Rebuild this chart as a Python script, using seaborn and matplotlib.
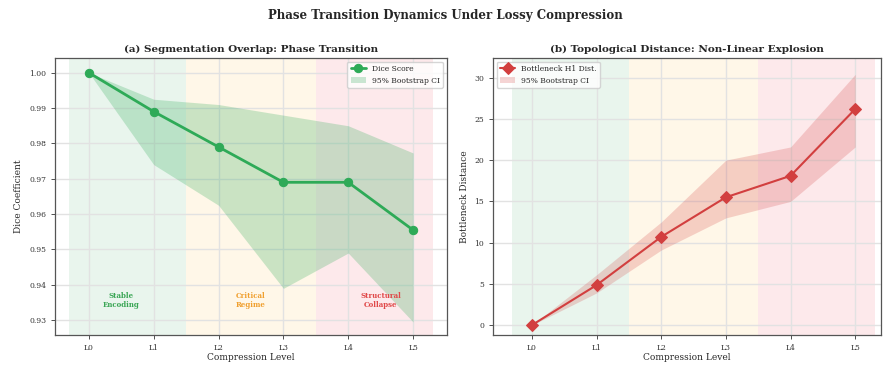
import numpy as np
import pandas as pd
import matplotlib
matplotlib.use("Agg")
import matplotlib.pyplot as plt
import seaborn as sns

# data
levels = ["L0", "L1", "L2", "L3", "L4", "L5"]
dice_mean = [1.000, 0.989, 0.979, 0.969, 0.969, 0.9555]
dice_lo = [1.000, 0.974, 0.9625, 0.939, 0.949, 0.9295]
dice_hi = [1.000, 0.9925, 0.991, 0.988, 0.985, 0.9773]

bn_mean = [0.0, 4.85, 10.7, 15.5, 18.1, 26.2]
bn_lo = [0.0, 3.9, 9.1, 13.0, 15.0, 21.6]
bn_hi = [0.0, 6.1, 12.5, 20.0, 21.6, 30.4]

regimes = ["Stable\nEncoding", "Critical\nRegime", "Structural\nCollapse"]
regime_spans = [(-0.3, 1.5), (1.5, 3.5), (3.5, 5.3)]
regime_fill = ["#e6f4ea", "#fff6e5", "#fde6e8"]
regime_text = ["#3aa655", "#f0a030", "#e04848"]

green = "#2eaa57"
red = "#d23f3f"

sns.set_theme(style="whitegrid")
plt.rcParams["font.family"] = ["DejaVu Serif"]
plt.rcParams["axes.edgecolor"] = "#555555"
plt.rcParams["grid.color"] = "#e2e2e2"

x = np.arange(len(levels))
df = pd.DataFrame({"x": x, "dice": dice_mean, "bn": bn_mean})

fig = plt.figure(figsize=(8.9, 3.71), dpi=100)
ax1 = fig.add_axes([0.062, 0.097, 0.440, 0.747])
ax2 = fig.add_axes([0.554, 0.097, 0.436, 0.747])

for ax in (ax1, ax2):
    for (a, b), c in zip(regime_spans, regime_fill):
        ax.axvspan(a, b, color=c, alpha=0.85, lw=0, zorder=0)

# (a) dice
ax1.fill_between(x, dice_lo, dice_hi, color=green, alpha=0.25, lw=0,
                 label="95% Bootstrap CI", zorder=1)
sns.lineplot(data=df, x="x", y="dice", ax=ax1, color=green, lw=2,
             marker="o", markersize=6, markeredgecolor=green,
             label="Dice Score", zorder=3)
ycen = [0.9355, 0.9355, 0.9355]
for i, (txt, c) in enumerate(zip(regimes, regime_text)):
    ax1.text(i * 2 + 0.5, ycen[i], txt, color=c, fontsize=5,
             ha="center", va="center", fontweight="bold")
ax1.set_xlim(-0.52, 5.52)
ax1.set_ylim(0.9258, 1.0042)
ax1.set_yticks([1.00, 0.99, 0.98, 0.97, 0.96, 0.95, 0.94, 0.93])
ax1.set_yticklabels(["1.00", "0.99", "0.98", "0.97", "0.96", "0.95", "0.94", "0.93"])
ax1.set_title("(a) Segmentation Overlap: Phase Transition", fontsize=7.5,
              fontweight="bold", pad=4)
ax1.set_ylabel("Dice Coefficient", fontsize=6.5)
h, l = ax1.get_legend_handles_labels()
ax1.legend(h[::-1], l[::-1], loc="upper right", fontsize=5.5, frameon=True)

# (b) bottleneck
ax2.fill_between(x, bn_lo, bn_hi, color=red, alpha=0.22, lw=0,
                 label="95% Bootstrap CI", zorder=1)
sns.lineplot(data=df, x="x", y="bn", ax=ax2, color=red, lw=1.5,
             marker="D", markersize=6, markeredgecolor=red,
             label="Bottleneck H1 Dist.", zorder=3)
ax2.set_xlim(-0.6, 5.4)
ax2.set_ylim(-1.2, 32.4)
ax2.set_yticks([0, 5, 10, 15, 20, 25, 30])
ax2.set_title("(b) Topological Distance: Non-Linear Explosion", fontsize=7.5,
              fontweight="bold", pad=4)
ax2.set_ylabel("Bottleneck Distance", fontsize=6.5)
h, l = ax2.get_legend_handles_labels()
ax2.legend(h[::-1], l[::-1], loc="upper left", fontsize=5.5, frameon=True)

for ax in (ax1, ax2):
    ax.set_xticks(x)
    ax.set_xticklabels(levels)
    ax.set_xlabel("Compression Level", fontsize=6.5, labelpad=1)
    ax.tick_params(labelsize=5.5, length=3, width=0.6, bottom=True, left=True,
                   colors="#333333")
    for s in ax.spines.values():
        s.set_linewidth(0.9)

fig.suptitle("Phase Transition Dynamics Under Lossy Compression", fontsize=8.5,
             fontweight="bold", y=0.975)
fig.savefig("out.png", dpi=100)
